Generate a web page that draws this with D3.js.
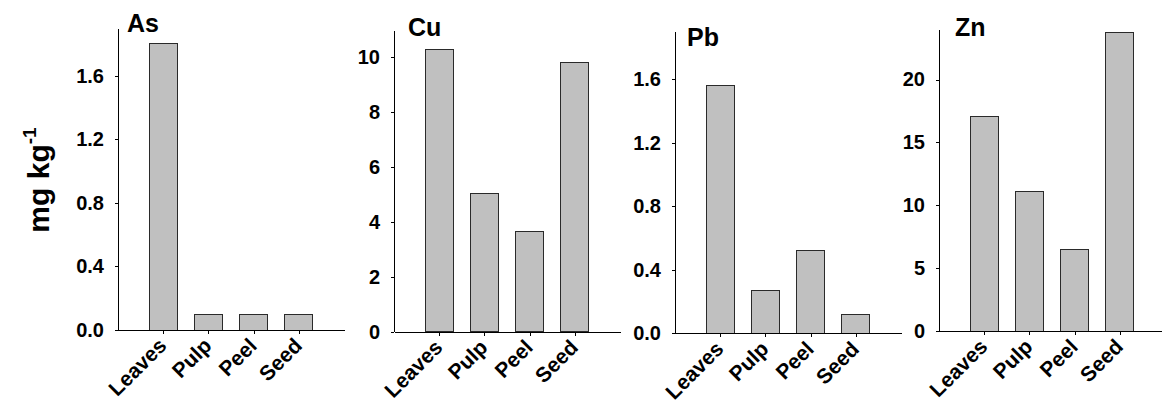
<!DOCTYPE html>
<html>
<head>
<meta charset="utf-8">
<script src="https://cdn.jsdelivr.net/npm/d3@7"></script>
<style>
  body { margin: 0; background: #fff; }
  svg { display: block; font-family: "Liberation Sans", Arial, sans-serif; }
  .axis path, .axis line { stroke: #000; shape-rendering: crispEdges; }
  .axis text { font-family: "Liberation Sans", Arial, sans-serif; font-weight: bold; fill: #000; }
  .axis--y text { font-size: 20px; }
  .axis--x text { font-size: 21px; }
  .bar { fill: #c0c0c0; stroke: #2a2a2a; stroke-width: 1; shape-rendering: crispEdges; }
  .title { font-size: 25px; font-weight: bold; }
  .ylabel { font-size: 30px; font-weight: bold; }
</style>
</head>
<body>
<div id="chart"></div>
<script>
// data
var categories = ["Leaves", "Pulp", "Peel", "Seed"];
var elements = ["As", "Cu", "Pb", "Zn"];
var asValues = [1.80, 0.10, 0.10, 0.10];
var cuValues = [10.28, 5.05, 3.67, 9.80];
var pbValues = [1.56, 0.27, 0.52, 0.12];
var znValues = [17.06, 11.13, 6.48, 23.75];
var yMaxes = [1.9, 11, 1.9, 24];
var yTicks = [
  [0, 0.4, 0.8, 1.2, 1.6],
  [0, 2, 4, 6, 8, 10],
  [0, 0.4, 0.8, 1.2, 1.6],
  [0, 5, 10, 15, 20]
];
var yFormats = [".1f", "d", ".1f", "d"];
var seriesValues = [asValues, cuValues, pbValues, znValues];

// layout of the four panels
var width = 1162, height = 408;
var panelLeft = [118, 394, 675, 939],
    panelTop = [28, 30, 31.7, 29.3],
    panelBottom = [330, 331.7, 333.3, 331],
    titleDx = [9, 14, 12, 16],
    titleY = [32, 36, 46, 36],
    axisLength = 226,
    barWidth = 28;

var svg = d3.select("#chart").append("svg")
    .attr("width", width)
    .attr("height", height);

elements.forEach(function(el, p) {
  var g = svg.append("g").attr("class", "panel");

  var x = d3.scalePoint()
      .domain(categories)
      .range([panelLeft[p], panelLeft[p] + axisLength])
      .padding(1);

  var y = d3.scaleLinear()
      .domain([0, yMaxes[p]])
      .range([panelBottom[p], panelTop[p]]);

  var data = categories.map(function(c, i) { return {cat: c, value: seriesValues[p][i]}; });

  // bars
  g.selectAll(".bar").data(data).enter()
    .append("rect")
      .attr("class", "bar")
      .attr("x", function(d) { return x(d.cat) - barWidth / 2; })
      .attr("y", function(d) { return y(d.value); })
      .attr("width", barWidth)
      .attr("height", function(d) { return y(0) - y(d.value); });

  // y axis
  g.append("g")
      .attr("class", "axis axis--y")
      .attr("transform", "translate(" + panelLeft[p] + ",0)")
      .call(d3.axisLeft(y)
        .tickValues(yTicks[p])
        .tickFormat(d3.format(yFormats[p]))
        .tickSize(3)
        .tickSizeOuter(0)
        .tickPadding(11));

  // x axis with slanted labels
  var xAxis = g.append("g")
      .attr("class", "axis axis--x")
      .attr("transform", "translate(0," + panelBottom[p] + ")")
      .call(d3.axisBottom(x).tickSize(4).tickSizeOuter(0));

  xAxis.selectAll("text")
      .attr("text-anchor", "end")
      .attr("dy", null)
      .attr("y", null)
      .attr("transform", "translate(4,17) rotate(-45)");

  // panel title
  g.append("text")
      .attr("class", "title")
      .attr("x", panelLeft[p] + titleDx[p])
      .attr("y", titleY[p])
      .text(el);
});

// shared y label
var ylab = svg.append("text")
    .attr("class", "ylabel")
    .attr("text-anchor", "middle")
    .attr("transform", "translate(49,180) rotate(-90)");
ylab.append("tspan").text("mg kg");
ylab.append("tspan")
    .attr("dy", -13)
    .attr("font-size", "19px")
    .text("-1");
</script>
</body>
</html>
